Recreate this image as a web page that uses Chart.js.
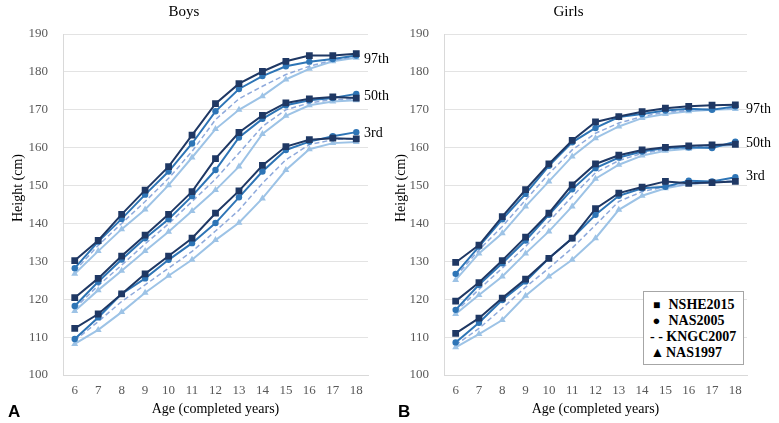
<!DOCTYPE html>
<html>
<head>
<meta charset="utf-8">
<script src="https://cdn.jsdelivr.net/npm/chart.js@4.4.0/dist/chart.umd.min.js"></script>
<style>
    body { margin: 0; background: #fff; width: 779px; height: 423px; position: relative; overflow: hidden; }
    #graficoBoys { position: absolute; left: 0; top: 0; }
    #graficoGirls { position: absolute; left: 390px; top: 0; }
    #legenda {
        position: absolute; left: 643px; top: 291px; width: 99px; height: 72px;
        border: 1px solid #a6a6a6; background: #fff;
        font-family: "Liberation Serif", serif; font-weight: bold; font-size: 14px; color: #000;
    }
    #legenda div { position: absolute; left: 0; white-space: nowrap; line-height: 16px; }
    #legenda span.marca { display: inline-block; width: 17px; text-align: center; font-size: 12px; vertical-align: top; }
</style>
</head>
<body>
<canvas id="graficoBoys" width="400" height="423"></canvas>
<canvas id="graficoGirls" width="389" height="423"></canvas>
<div id="legenda">
    <div style="top:5px;left:4px"><span class="marca">&#9632;</span> NSHE2015</div>
    <div style="top:21px;left:4px"><span class="marca" style="font-size:13px">&#9679;</span> NAS2005</div>
    <div style="top:37px;left:6px">- - KNGC2007</div>
    <div style="top:53px;left:5px"><span class="marca" style="font-size:14px">&#9650;</span>NAS1997</div>
</div>
<script>
// idades (anos completos)
var idades = ['6', '7', '8', '9', '10', '11', '12', '13', '14', '15', '16', '17', '18'];
var percentis = ['97th', '50th', '3rd'];

// Meninos
var boysNSHE97 = [130.2, 135.5, 142.4, 148.8, 155.0, 163.3, 171.6, 176.9, 180.1, 182.8, 184.3, 184.3, 184.8];
var boysNSHE50 = [120.4, 125.5, 131.4, 136.9, 142.4, 148.4, 157.1, 164.0, 168.5, 171.8, 172.9, 173.4, 173.1];
var boysNSHE3 = [112.3, 116.1, 121.4, 126.7, 131.4, 136.1, 142.7, 148.6, 155.3, 160.3, 162.1, 162.5, 162.3];
var boysNAS2005_97 = [128.2, 135.2, 141.2, 147.6, 153.7, 161.1, 169.6, 175.5, 178.9, 181.5, 182.7, 183.4, 184.3];
var boysNAS2005_50 = [118.2, 124.6, 130.5, 136.1, 141.1, 147.2, 154.1, 162.7, 167.6, 171.2, 172.5, 173.1, 174.2];
var boysNAS2005_3 = [109.5, 115.2, 121.4, 125.5, 130.4, 134.8, 140.1, 146.9, 153.7, 159.4, 161.6, 163.0, 164.1];
var boysKNGC97 = [127.5, 134.2, 140.0, 145.8, 151.9, 159.0, 167.4, 172.9, 176.2, 179.3, 181.5, 183.1, 184.0];
var boysKNGC50 = [117.6, 123.6, 129.0, 134.6, 139.9, 145.8, 151.7, 158.6, 165.6, 170.0, 171.8, 172.7, 172.9];
var boysKNGC3 = [109.1, 114.1, 119.4, 123.8, 128.2, 132.6, 138.0, 143.5, 150.6, 156.8, 160.8, 162.1, 162.5];
var boysNAS1997_97 = [126.7, 132.7, 138.5, 143.7, 150.1, 157.4, 164.9, 170.0, 173.6, 178.0, 180.8, 182.8, 183.7];
var boysNAS1997_50 = [116.9, 122.4, 127.5, 132.7, 137.8, 143.3, 148.8, 155.0, 163.6, 168.4, 171.2, 172.2, 172.5];
var boysNAS1997_3 = [108.2, 111.9, 116.6, 121.7, 126.2, 130.4, 135.6, 140.2, 146.6, 154.1, 159.6, 161.2, 161.5];

// Meninas
var girlsNSHE97 = [129.7, 134.3, 141.8, 148.9, 155.7, 161.9, 166.8, 168.2, 169.5, 170.4, 170.9, 171.2, 171.3];
var girlsNSHE50 = [119.5, 124.4, 130.2, 136.4, 142.7, 150.2, 155.7, 158.0, 159.4, 160.1, 160.5, 160.7, 160.9];
var girlsNSHE3 = [111.0, 115.0, 120.3, 125.3, 130.8, 136.1, 143.9, 148.0, 149.6, 151.1, 150.6, 150.8, 151.1];
var girlsNAS2005_97 = [126.7, 133.9, 141.1, 147.8, 155.2, 161.4, 165.2, 168.1, 168.9, 169.8, 170.3, 170.0, 170.9];
var girlsNAS2005_50 = [117.2, 123.8, 129.5, 135.5, 142.3, 149.0, 154.6, 157.4, 159.0, 159.9, 160.1, 159.9, 161.6];
var girlsNAS2005_3 = [108.6, 113.8, 119.8, 124.7, 130.8, 136.1, 142.3, 147.3, 149.3, 149.7, 151.3, 151.1, 152.2];
var girlsKNGC97 = [126.0, 133.0, 139.2, 146.2, 153.1, 159.4, 163.8, 166.5, 168.2, 169.4, 169.8, 170.2, 170.4];
var girlsKNGC50 = [116.7, 122.6, 128.2, 133.9, 140.5, 147.1, 153.4, 156.6, 158.5, 159.6, 160.1, 160.5, 160.9];
var girlsKNGC3 = [107.9, 112.3, 117.6, 123.2, 128.2, 133.5, 139.6, 145.8, 148.4, 149.7, 150.4, 150.8, 151.3];
var girlsNAS1997_97 = [125.1, 132.1, 137.4, 144.5, 151.1, 157.7, 162.5, 165.6, 167.8, 168.9, 169.6, 170.0, 170.2];
var girlsNAS1997_50 = [116.1, 121.1, 126.0, 132.1, 137.9, 144.5, 151.8, 155.5, 157.9, 159.2, 159.7, 160.3, 160.7];
var girlsNAS1997_3 = [107.3, 110.8, 114.5, 120.9, 126.0, 130.4, 136.1, 143.6, 147.3, 149.3, 150.4, 150.8, 151.1];

var fonteSerif = '"Liberation Serif", "Times New Roman", serif';

// estilo de cada estudo (ordem: o primeiro fica por cima)
var estilos = [
    { nome: 'NSHE2015', cor: '#1f3864', ponto: 'rect', raio: 4.8, largura: 2, traco: [] },
    { nome: 'NAS2005', cor: '#2e75b6', ponto: 'circle', raio: 3.2, largura: 2, traco: [] },
    { nome: 'KNGC2007', cor: '#8faadc', ponto: 'circle', raio: 0, largura: 1.5, traco: [5, 3] },
    { nome: 'NAS1997', cor: '#9dc3e6', ponto: 'triangle', raio: 4, largura: 2, traco: [] }
];

function montarDatasets(series) {
    var datasets = [];
    for (var i = 0; i < estilos.length; i++) {
        var e = estilos[i];
        for (var p = 0; p < series[i].length; p++) {
            datasets.push({
                label: e.nome + ' ' + percentis[p],
                data: series[i][p],
                borderColor: e.cor,
                backgroundColor: e.cor,
                borderWidth: e.largura,
                borderDash: e.traco,
                pointStyle: e.ponto,
                pointRadius: e.raio,
                pointBorderWidth: 0,
                pointHoverRadius: e.raio,
                tension: 0
            });
        }
    }
    return datasets;
}

// textos extras: percentis na direita, titulo do eixo y e letra do painel
var pluginRotulos = {
    id: 'rotulos',
    afterDraw: function (chart, args, opts) {
        var ctx = chart.ctx;
        var area = chart.chartArea;
        var escalaY = chart.scales.y;
        ctx.save();
        ctx.fillStyle = '#000';
        ctx.font = '14px ' + fonteSerif;
        ctx.textAlign = 'left';
        ctx.textBaseline = 'middle';
        for (var i = 0; i < percentis.length; i++) {
            ctx.fillText(percentis[i], area.right + opts.dx, escalaY.getPixelForValue(opts.posicoes[i]));
        }
        ctx.save();
        ctx.translate(opts.tituloX, opts.tituloY);
        ctx.rotate(-Math.PI / 2);
        ctx.textAlign = 'center';
        ctx.fillText('Height (cm)', 0, 0);
        ctx.restore();
        ctx.font = 'bold 17px "Liberation Sans", Arial, sans-serif';
        ctx.textBaseline = 'alphabetic';
        ctx.fillText(opts.letra, opts.letraX, 417);
        ctx.restore();
    }
};

function criarGrafico(idCanvas, titulo, series, larguraEixoY, rotulos) {
    var config = {
        type: 'line',
        data: {
            labels: idades,
            datasets: montarDatasets(series)
        },
        plugins: [pluginRotulos],
        options: {
            responsive: false,
            animation: false,
            layout: { padding: { left: 0, right: 32, top: 0, bottom: 0 } },
            plugins: {
                legend: { display: false },
                tooltip: { enabled: false },
                title: {
                    display: true,
                    text: titulo,
                    color: '#000',
                    font: { family: fonteSerif, size: 15, weight: 'normal' },
                    padding: { top: 3, bottom: 13 }
                },
                rotulos: rotulos
            },
            scales: {
                x: {
                    offset: true,
                    grid: { display: false, drawTicks: false },
                    border: { display: true, color: '#d9d9d9' },
                    ticks: { color: '#595959', font: { family: fonteSerif, size: 13 }, padding: 8 },
                    title: {
                        display: true,
                        text: 'Age (completed years)',
                        color: '#000',
                        font: { family: fonteSerif, size: 14 },
                        padding: { top: 0, bottom: 5 }
                    },
                    afterFit: function (scale) { scale.height = 48; }
                },
                y: {
                    min: 100,
                    max: 190,
                    grid: { color: '#e3e3e3', drawTicks: false },
                    border: { display: true, color: '#d9d9d9' },
                    ticks: { stepSize: 10, color: '#595959', font: { family: fonteSerif, size: 13 }, padding: 15 },
                    afterFit: function (scale) { scale.width = larguraEixoY; }
                }
            }
        }
    };
    return new Chart(document.getElementById(idCanvas), config);
}

criarGrafico('graficoBoys', 'Boys', [
    [boysNSHE97, boysNSHE50, boysNSHE3],
    [boysNAS2005_97, boysNAS2005_50, boysNAS2005_3],
    [boysKNGC97, boysKNGC50, boysKNGC3],
    [boysNAS1997_97, boysNAS1997_50, boysNAS1997_3]
], 63, { dx: -4, posicoes: [183.4, 173.6, 163.8], tituloX: 18, tituloY: 188, letra: 'A', letraX: 8 });

criarGrafico('graficoGirls', 'Girls', [
    [girlsNSHE97, girlsNSHE50, girlsNSHE3],
    [girlsNAS2005_97, girlsNAS2005_50, girlsNAS2005_3],
    [girlsKNGC97, girlsKNGC50, girlsKNGC3],
    [girlsNAS1997_97, girlsNAS1997_50, girlsNAS1997_3]
], 54, { dx: -1, posicoes: [170.2, 161.2, 152.4], tituloX: 11, tituloY: 188, letra: 'B', letraX: 8 });
</script>
</body>
</html>
